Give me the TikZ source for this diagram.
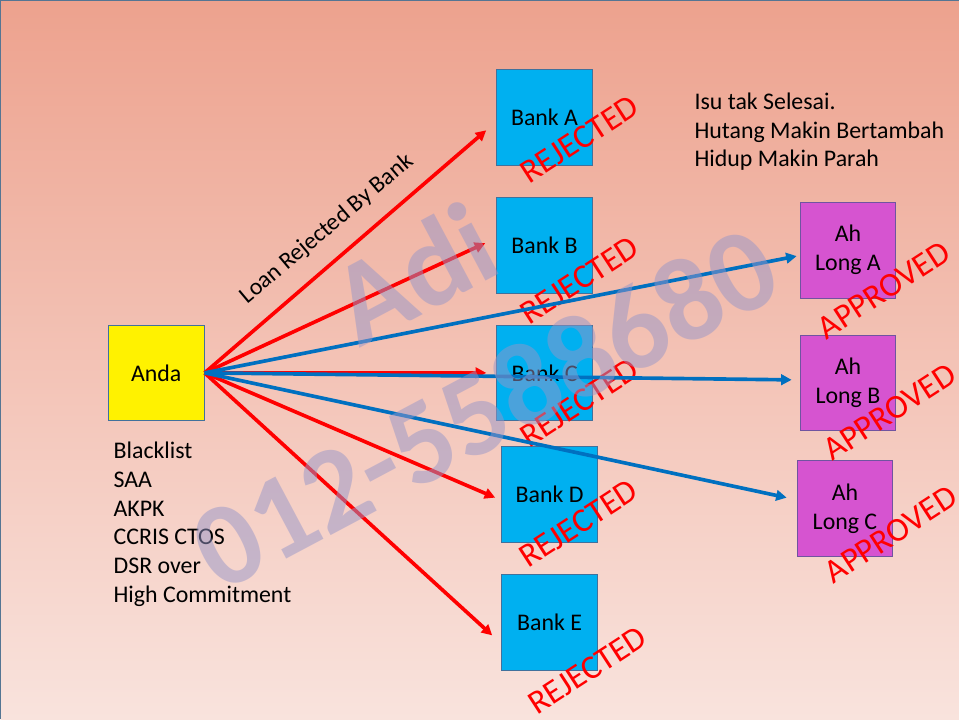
\documentclass[tikz,border=0pt]{standalone}
\usepackage{fontspec}
\setmainfont{Carlito}
\usetikzlibrary{arrows.meta}
\definecolor{bgtop}{RGB}{237,162,142}
\definecolor{bgbot}{RGB}{249,227,221}
\definecolor{bankblue}{RGB}{0,176,240}
\definecolor{boxedge}{RGB}{65,113,156}
\definecolor{ahlong}{RGB}{214,84,208}
\definecolor{ahedge}{RGB}{112,84,160}
\definecolor{arrred}{RGB}{255,0,0}
\definecolor{arrblue}{RGB}{0,112,192}
\definecolor{wmark}{RGB}{150,150,200}

\begin{document}
\begin{tikzpicture}[
    x=0.025cm, y=-0.025cm,
    boxnode/.style={
        draw=boxedge,
        line width=0.6pt,
        fill=#1,
        minimum width=2.4cm,
        minimum height=2.4cm,
        inner sep=0pt,
        align=center,
        font=\fontsize{17}{20.5}\selectfont
    },
    boxnode/.default=bankblue,
    stamp/.style={text=arrred, rotate=33, inner sep=0pt, font=\fontsize{24}{28}\selectfont},
    rejarrow/.style={-{Triangle[length=7.5pt, width=7.5pt]}, line width=2.6pt, arrred},
    apparrow/.style={-{Triangle[length=7.5pt, width=7.5pt]}, line width=2.6pt, arrblue},
    note/.style={align=left, inner sep=0pt, font=\fontsize{17}{20.5}\selectfont},
    wmtext/.style={align=center, rotate=28, text=wmark, text opacity=0.5,
        font=\bfseries\fontsize{85}{108}\selectfont}
]

% === Background ===
\shade[top color=bgtop, bottom color=bgbot] (0,0) rectangle (960,720);
\draw[boxedge!70!gray, line width=0.8pt] (0,720) -- (0,0) -- (960,0);

% === Boxes ===
\node[boxnode=yellow] (anda) at (156,373) {Anda};
\node[boxnode] (bankA) at (545,117) {Bank A};
\node[boxnode] (bankB) at (545,245) {Bank B};
\node[boxnode] (bankC) at (545,373) {Bank C};
\node[boxnode] (bankD) at (550,495) {Bank D};
\node[boxnode] (bankE) at (550,623) {Bank E};
\node[boxnode=ahlong, draw=ahedge] (ahlongA) at (849,250) {Ah\\Long A};
\node[boxnode=ahlong, draw=ahedge] (ahlongB) at (849,383) {Ah\\Long B};
\node[boxnode=ahlong, draw=ahedge] (ahlongC) at (846,509) {Ah\\Long C};

% === Texts ===
\node[note, anchor=north west] (reasons) at (113,442) {Blacklist\\SAA\\AKPK\\CCRIS CTOS\\DSR over\\High Commitment};
\node[note, anchor=north west] (issue) at (695,92) {Isu tak Selesai.\\Hutang Makin Bertambah\\Hidup Makin Parah};
\node[rotate=40, inner sep=0pt, font=\fontsize{17}{20.5}\selectfont] (loanlbl) at (327,229) {Loan Rejected By Bank};

% === Stamps ===
\node[stamp] at ([shift={(35,22)}]bankA.center) {REJECTED};
\node[stamp] at ([shift={(35,35)}]bankB.center) {REJECTED};
\node[stamp] at ([shift={(35,30)}]bankC.center) {REJECTED};
\node[stamp] at ([shift={(29,29)}]bankD.center) {REJECTED};
\node[stamp] at ([shift={(38,48)}]bankE.center) {REJECTED};
\node[stamp] at ([shift={(36,40)}]ahlongA.center) {APPROVED};
\node[stamp] at ([shift={(42,29)}]ahlongB.center) {APPROVED};
\node[stamp] at ([shift={(46,26)}]ahlongC.center) {APPROVED};

% === Arrows ===
\draw[rejarrow] (anda.east) -- ([shift={(-10,13)}]bankA.west);
\draw[rejarrow] (anda.east) -- ([shift={(-11,-2)}]bankB.west);
\draw[rejarrow] (anda.east) -- ([shift={(-10,0)}]bankC.west);
\draw[rejarrow] (anda.east) -- ([shift={(-6,3)}]bankD.west);
\draw[rejarrow] (anda.east) -- ([shift={(-9,13)}]bankE.west);
\draw[apparrow] (anda.east) -- ([shift={(-3,6)}]ahlongA.west);
\draw[apparrow] (anda.east) -- ([shift={(-8,-3)}]ahlongB.west);
\draw[apparrow] (anda.east) -- ([shift={(-10,-11)}]ahlongC.west);

% === Watermark ===
\node[wmtext] (wm) at (449,340) {Adi\\012-5588680};

\end{tikzpicture}
\end{document}
